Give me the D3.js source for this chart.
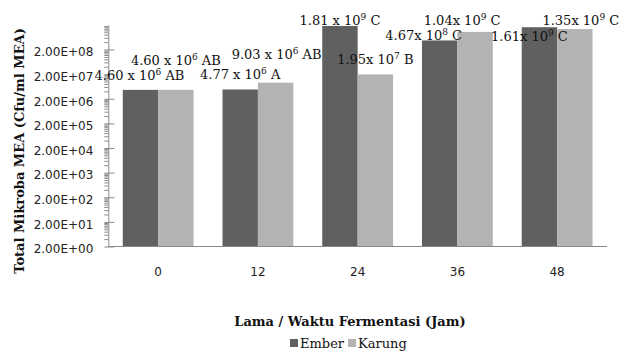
<!DOCTYPE html>
<html>
<head>
<meta charset="utf-8">
<script src="https://cdn.jsdelivr.net/npm/d3@7"></script>
<style>
  body { margin: 0; background: #fff; }
  svg { display: block; }
</style>
</head>
<body>
<div id="chart"></div>
<script>
// data
var categories = ["0", "12", "24", "36", "48"];
var seriesNames = ["Ember", "Karung"];
var ember = [4.60e6, 4.77e6, 1.81e9, 4.67e8, 1.61e9];
var karung = [4.60e6, 9.03e6, 1.95e7, 1.04e9, 1.35e9];
// label text: [mantissa part, exponent, letter]
var emberLabels = [["4.60 x 10", "6", " AB"], ["4.77 x 10", "6", " A"], ["1.81 x 10", "9", " C"], ["4.67x 10", "8", " C"], ["1.61x 10", "9", " C"]];
var karungLabels = [["4.60 x 10", "6", " AB"], ["9.03 x 10", "6", " AB"], ["1.95x 10", "7", " B"], ["1.04x 10", "9", " C"], ["1.35x 10", "9", " C"]];
var yTicks = [2, 20, 200, 2000, 2e4, 2e5, 2e6, 2e7, 2e8];
var yTickLabels = ["2.00E+00", "2.00E+01", "2.00E+02", "2.00E+03", "2.00E+04", "2.00E+05", "2.00E+06", "2.00E+07", "2.00E+08"];

// label nudges (px) from the bar top, labels were moved by hand in the original
var emberNudge = [[-1, -10], [0, -10], [0, -1], [-16, 0], [-10, 14]];
var karungNudge = [[0, -25], [1, -24], [0, -10], [-13, -7], [6, -4]];

var colors = {Ember: "#606060", Karung: "#b3b3b3"};
var W = 619, H = 356;
var pLeft = 108.3, pRight = 607, pTop = 24.9, pBottom = 246.5;

var svg = d3.select("#chart").append("svg")
    .attr("width", W)
    .attr("height", H);

var x = d3.scaleBand().domain(categories).range([pLeft, pRight])
    .paddingInner(0.29).paddingOuter(0.145);
var xs = d3.scaleBand().domain(seriesNames).range([0, x.bandwidth()]);
var y = d3.scaleLog().domain([2, 2e9]).range([pBottom, pTop]);

// minor ticks: 4,6,...,18 x 10^n
var minors = [];
yTicks.forEach(function(t) {
  for (var k = 2; k <= 9; k++) minors.push(t * k);
});

var gy = svg.append("g").attr("transform", "translate(" + pLeft + ",0)");
gy.call(d3.axisLeft(y).tickValues(minors).tickSize(4).tickFormat(""))
  .call(function(g) { g.select(".domain").remove(); });
gy.selectAll("line").attr("stroke", "#8a8a8a");

var gyMajor = svg.append("g").attr("transform", "translate(" + pLeft + ",0)")
    .call(d3.axisLeft(y).tickValues(yTicks).tickSizeInner(4).tickSizeOuter(0)
      .tickPadding(11)
      .tickFormat(function(d, i) { return yTickLabels[i]; }));
gyMajor.select(".domain").attr("stroke", "#8a8a8a");
gyMajor.selectAll(".tick line").attr("x2", 6).attr("x1", -4).attr("stroke", "#8a8a8a");
gyMajor.selectAll(".tick text")
    .attr("font-family", "DejaVu Sans")
    .attr("font-size", 12)
    .attr("fill", "#222")
    .attr("y", 2.5);

// bars
var groups = svg.append("g").selectAll("g")
  .data(categories)
  .join("g")
    .attr("transform", function(d) { return "translate(" + x(d) + ",0)"; });

groups.selectAll("rect")
  .data(function(d, i) {
    return [{s: "Ember", v: ember[i]}, {s: "Karung", v: karung[i]}];
  })
  .join("rect")
    .attr("x", function(d) { return xs(d.s); })
    .attr("y", function(d) { return y(d.v); })
    .attr("width", xs.bandwidth())
    .attr("height", function(d) { return pBottom - y(d.v); })
    .attr("fill", function(d) { return colors[d.s]; });

// x axis
var gx = svg.append("g").attr("transform", "translate(0," + pBottom + ")")
    .call(d3.axisBottom(x).tickSize(0).tickPadding(21).tickSizeOuter(0));
gx.select(".domain").attr("stroke", "#8a8a8a").attr("d", "M" + pLeft + ",0H" + pRight);
gx.selectAll(".tick text")
    .attr("font-family", "DejaVu Sans")
    .attr("font-size", 12)
    .attr("fill", "#222");

// data labels
function addLabel(txt, cx, by) {
  var t = svg.append("text")
      .attr("x", cx)
      .attr("y", by)
      .attr("text-anchor", "middle")
      .attr("font-family", "DejaVu Serif")
      .attr("font-size", 13)
      .attr("fill", "#111");
  t.append("tspan").text(txt[0]);
  t.append("tspan").attr("font-size", 9).attr("dy", -5).text(txt[1]);
  t.append("tspan").attr("dy", 5).text(txt[2]);
}
categories.forEach(function(c, i) {
  addLabel(emberLabels[i], x(c) + xs("Ember") + xs.bandwidth() / 2 + emberNudge[i][0], y(ember[i]) + emberNudge[i][1]);
  addLabel(karungLabels[i], x(c) + xs("Karung") + xs.bandwidth() / 2 + karungNudge[i][0], y(karung[i]) + karungNudge[i][1]);
});

// axis titles
svg.append("text")
    .attr("transform", "translate(19,151) rotate(-90)")
    .attr("text-anchor", "middle")
    .attr("dy", "0.35em")
    .attr("font-family", "DejaVu Serif")
    .attr("font-weight", "bold")
    .attr("font-size", 13)
    .attr("fill", "#111")
    .text("Total Mikroba MEA (Cfu/ml MEA)");

svg.append("text")
    .attr("x", 350)
    .attr("y", 326)
    .attr("text-anchor", "middle")
    .attr("font-family", "DejaVu Serif")
    .attr("font-weight", "bold")
    .attr("font-size", 13)
    .attr("fill", "#111")
    .text("Lama / Waktu Fermentasi (Jam)");

// legend
var legend = svg.append("g").attr("transform", "translate(290,348)");
var lx = 0;
seriesNames.forEach(function(s) {
  legend.append("rect")
      .attr("x", lx).attr("y", -9)
      .attr("width", 8).attr("height", 8)
      .attr("fill", colors[s]);
  var t = legend.append("text")
      .attr("x", lx + 10)
      .attr("font-family", "DejaVu Serif")
      .attr("font-size", 13)
      .attr("fill", "#111")
      .text(s);
  lx += 10 + t.node().getComputedTextLength() + 4;
});
</script>
</body>
</html>
